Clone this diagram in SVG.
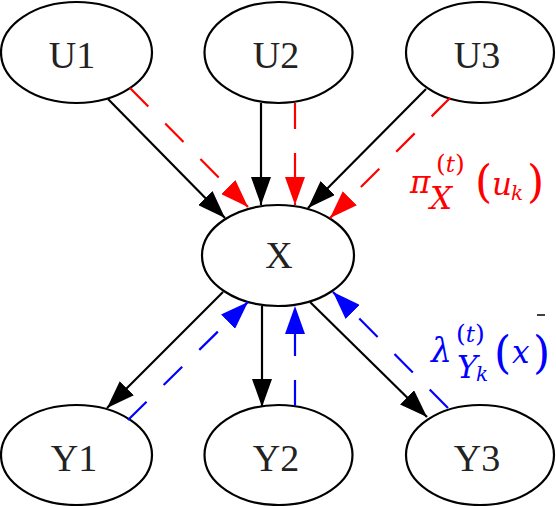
<svg xmlns="http://www.w3.org/2000/svg" width="556" height="506" viewBox="0 0 556 506">
<style>
.node ellipse{fill:#fff;stroke:#000;stroke-width:2.2}
.node text{font-family:"Liberation Serif",serif;font-size:38px;fill:#222;text-anchor:middle}
.solid{stroke:#000;stroke-width:2.2;fill:none}
.red{stroke:#f00;stroke-width:2.2;fill:none;stroke-dasharray:26 24}
.blue{stroke:#00f;stroke-width:2.2;fill:none;stroke-dasharray:26 24}
.math{font-family:"DejaVu Serif",serif}
.it{font-style:italic}
</style>
<defs>
<marker id="ak" markerUnits="userSpaceOnUse" markerWidth="30" markerHeight="20" refX="28" refY="10" orient="auto"><path d="M0,0 L28,10 L0,20 Z" fill="#000"/></marker>
<marker id="ar" markerUnits="userSpaceOnUse" markerWidth="30" markerHeight="20" refX="28" refY="10" orient="auto"><path d="M0,0 L28,10 L0,20 Z" fill="#f00"/></marker>
<marker id="ab" markerUnits="userSpaceOnUse" markerWidth="30" markerHeight="20" refX="28" refY="10" orient="auto"><path d="M0,0 L28,10 L0,20 Z" fill="#00f"/></marker>
</defs>
<g id="U1" class="node"><ellipse cx="76.5" cy="52.5" rx="75.5" ry="50.5"/><text x="72" y="68">U1</text></g>
<g id="U2" class="node"><ellipse cx="278.5" cy="52.5" rx="74" ry="50.5"/><text x="276" y="68">U2</text></g>
<g id="U3" class="node"><ellipse cx="480" cy="52.5" rx="74" ry="50.5"/><text x="477" y="68">U3</text></g>
<g id="X" class="node"><ellipse cx="278" cy="255.5" rx="76" ry="50.5"/><text x="279" y="268">X</text></g>
<g id="Y1" class="node"><ellipse cx="76.5" cy="455" rx="75.5" ry="50"/><text x="74" y="471">Y1</text></g>
<g id="Y2" class="node"><ellipse cx="278.5" cy="455" rx="74" ry="50"/><text x="276" y="471">Y2</text></g>
<g id="Y3" class="node"><ellipse cx="480" cy="455" rx="74" ry="50"/><text x="477" y="471">Y3</text></g>
<g id="connectors">
<line class="solid" x1="108" y1="99" x2="225" y2="218" marker-end="url(#ak)"/>
<line class="solid" x1="261" y1="103" x2="261" y2="205" marker-end="url(#ak)"/>
<line class="solid" x1="426" y1="89" x2="308" y2="208" marker-end="url(#ak)"/>
<line class="solid" x1="223" y1="292" x2="107" y2="408" marker-end="url(#ak)"/>
<line class="solid" x1="262" y1="306" x2="262" y2="407" marker-end="url(#ak)"/>
<line class="solid" x1="310" y1="302" x2="427" y2="417" marker-end="url(#ak)"/>
<line class="red" x1="130" y1="88" x2="248" y2="207" marker-end="url(#ar)"/>
<line class="red" x1="295" y1="103" x2="295" y2="205" marker-end="url(#ar)"/>
<line class="red" x1="450" y1="98" x2="330" y2="218" marker-end="url(#ar)"/>
<line class="blue" x1="128" y1="420" x2="248" y2="302" marker-end="url(#ab)"/>
<line class="blue" x1="295" y1="406" x2="295" y2="306" marker-end="url(#ab)"/>
<line class="blue" x1="448" y1="408" x2="333" y2="292" marker-end="url(#ab)"/>
</g>
<g id="labels">
<text class="math" fill="#f00"><tspan class="it" x="410" y="193" font-size="31">π</tspan><tspan x="436" y="172" font-size="25">(</tspan><tspan class="it" font-size="23">t</tspan><tspan font-size="25">)</tspan><tspan class="it" x="430" y="209" font-size="31">X</tspan><tspan x="475" y="197" font-size="44">(</tspan><tspan class="it" x="492" y="195" font-size="31">u</tspan><tspan class="it" x="511" y="200" font-size="20">k</tspan><tspan x="527" y="197" font-size="44">)</tspan></text>
<text class="math" fill="#00f"><tspan class="it" x="431" y="362" font-size="33">λ</tspan><tspan x="456" y="342" font-size="25">(</tspan><tspan class="it" font-size="23">t</tspan><tspan font-size="25">)</tspan><tspan class="it" x="457" y="378" font-size="31">Y</tspan><tspan class="it" x="476" y="381" font-size="20">k</tspan><tspan x="494" y="368" font-size="44">(</tspan><tspan class="it" x="512" y="363" font-size="31">x</tspan><tspan x="533" y="368" font-size="44">)</tspan></text>
<line x1="537" y1="315" x2="545" y2="315" stroke="#000" stroke-width="1.5"/>
</g>
</svg>
